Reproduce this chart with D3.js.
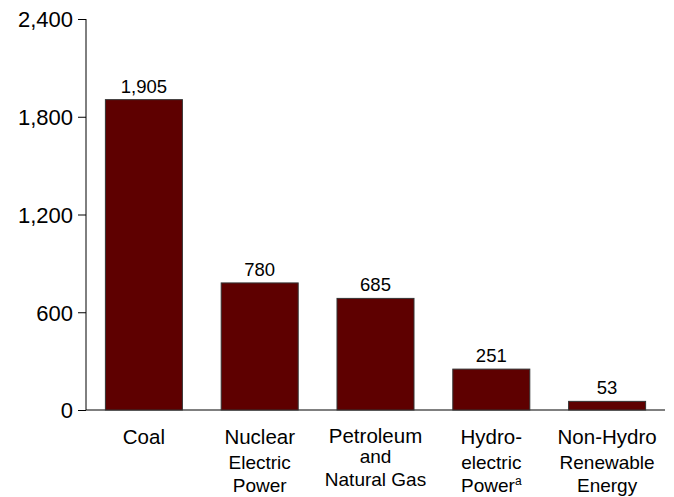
<!DOCTYPE html>
<html><head><meta charset="utf-8">
<script src="https://cdn.jsdelivr.net/npm/d3@7"></script>
<style>body{margin:0;background:#fff}svg{display:block}text{font-family:"Liberation Sans",Arial,sans-serif;fill:#000}</style>
</head><body>
<svg id="c" width="674" height="497"></svg>
<script>
const categories = ["Coal", "Nuclear", "Petroleum", "Hydro", "NonHydro"];
const labelLines = [["Coal"], ["Nuclear", "Electric", "Power"], ["Petroleum", "and", "Natural Gas"], ["Hydro-", "electric", "Power"], ["Non-Hydro", "Renewable", "Energy"]];
const values = [1905, 780, 685, 251, 53];
const yTicks = [0, 600, 1200, 1800, 2400];

const svg = d3.select("#c");
const x0 = 86, x1 = 665, yTop = 19, yBot = 410;
const x = d3.scaleBand().domain(categories).range([x0, x1]).paddingInner(0.335).paddingOuter(0.1675);
const y = d3.scaleLinear().domain([0, 2400]).range([yBot, yTop]);

const yAxis = svg.append("g").attr("transform", `translate(${x0},0)`)
  .call(d3.axisLeft(y).tickValues(yTicks).tickFormat(d3.format(",")).tickSize(8).tickPadding(5));
yAxis.attr("font-family", null).attr("font-size", null);
yAxis.select(".domain").attr("d", `M0,${yTop}V${yBot}`).attr("stroke", "#000");
yAxis.selectAll(".tick line").attr("stroke", "#000");
yAxis.selectAll(".tick text").style("font-size", "22px").attr("dy", "0.36em");

svg.append("line").attr("x1", x0).attr("x2", x1).attr("y1", yBot).attr("y2", yBot).attr("stroke", "#000");

svg.selectAll("rect.bar").data(values).enter().append("rect")
  .attr("x", (d, i) => x(categories[i]))
  .attr("y", d => y(d))
  .attr("width", x.bandwidth())
  .attr("height", d => yBot - y(d))
  .attr("fill", "#5e0000").attr("stroke", "#333").attr("stroke-width", 1);

svg.selectAll("text.val").data(values).enter().append("text")
  .attr("x", (d, i) => x(categories[i]) + x.bandwidth() / 2)
  .attr("y", d => y(d) - 7)
  .attr("text-anchor", "middle").style("font-size", "18.5px")
  .text(d => d3.format(",")(d));

const lineY = {
  Coal: [444], Nuclear: [444, 469, 492], Petroleum: [443, 463, 486], Hydro: [444, 469, 492], NonHydro: [444, 469, 492]
};
categories.forEach((c, i) => {
  const cx = x(c) + x.bandwidth() / 2;
  labelLines[i].forEach((t, j) => {
    const tx = svg.append("text").attr("x", cx).attr("y", lineY[c][j])
      .attr("text-anchor", "middle").style("font-size", j === 0 ? "20.5px" : "19px");
    tx.append("tspan").text(t);
    if (c === "Hydro" && j === 2) {
      tx.append("tspan").attr("dy", -7).style("font-size", "12px").text("a");
    }
  });
});
</script>
</body></html>
